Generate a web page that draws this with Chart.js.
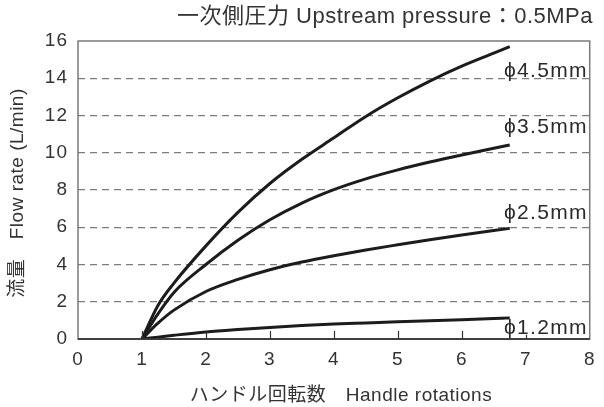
<!DOCTYPE html>
<html>
<head>
<meta charset="utf-8">
<script src="https://cdn.jsdelivr.net/npm/chart.js@4/dist/chart.umd.min.js"></script>
<style>
  html, body { margin: 0; padding: 0; background: #fff; }
  #wrap { width: 604px; height: 407px; }
</style>
</head>
<body>
<div id="wrap"><canvas id="flow-canvas"></canvas></div>
<script>
// handle rotations vs flow rate, one curve per orifice size
var rotations = [1, 1.25, 1.5, 2, 2.5, 3, 3.5, 4, 4.5, 5, 5.5, 6, 6.5, 6.75];
var flow45 = [0, 1.8, 3.0, 5.0, 6.8, 8.35, 9.65, 10.8, 11.95, 12.95, 13.85, 14.65, 15.35, 15.7];
var flow35 = [0, 1.35, 2.5, 4.0, 5.3, 6.4, 7.3, 8.02, 8.6, 9.08, 9.5, 9.88, 10.24, 10.42];
var flow25 = [0, 0.85, 1.55, 2.55, 3.2, 3.72, 4.13, 4.47, 4.78, 5.06, 5.33, 5.58, 5.82, 5.94];
var flow12 = [0, 0.1, 0.2, 0.38, 0.51, 0.62, 0.72, 0.8, 0.86, 0.92, 0.98, 1.04, 1.1, 1.13];
var seriesNames = ['ϕ4.5mm', 'ϕ3.5mm', 'ϕ2.5mm', 'ϕ1.2mm'];
var xTicks = [0, 1, 2, 3, 4, 5, 6, 7, 8];
var yTicks = [0, 2, 4, 6, 8, 10, 12, 14, 16];

var FONT = '"Liberation Sans", "Noto Sans CJK JP", sans-serif';
var DASH = [7, 5];

function toPoints(values) {
    var pts = [];
    for (var i = 0; i < values.length; i++) {
        pts.push({ x: rotations[i], y: values[i] });
    }
    return pts;
}

function curve(values) {
    return {
        data: toPoints(values),
        borderColor: '#1c1c1c',
        borderWidth: 3,
        pointRadius: 0,
        fill: false,
        cubicInterpolationMode: 'monotone'
    };
}

// wider letter spacing for all canvas text
var spacing = {
    id: 'spacing',
    beforeDraw: function (chart) {
        chart.ctx.letterSpacing = '1px';
    }
};

// frame, inner ticks, curve labels and titles
var decorations = {
    id: 'decorations',
    afterDraw: function (chart) {
        var ctx = chart.ctx;
        var area = chart.chartArea;
        var xs = chart.scales.x;
        var ys = chart.scales.y;
        ctx.save();

        ctx.strokeStyle = '#7a7a7a';
        ctx.lineWidth = 1.5;
        ctx.strokeRect(area.left, area.top, area.right - area.left, area.bottom - area.top);
        ctx.strokeStyle = '#222';
        ctx.beginPath();
        ctx.moveTo(area.left, area.bottom);
        ctx.lineTo(area.right, area.bottom);
        ctx.stroke();

        // short ticks pointing up into the plot
        ctx.lineWidth = 1.2;
        ctx.strokeStyle = '#333';
        for (var t = 1; t < xTicks.length - 1; t++) {
            var px = Math.round(xs.getPixelForValue(xTicks[t])) + 0.5;
            ctx.beginPath();
            ctx.moveTo(px, area.bottom);
            ctx.lineTo(px, area.bottom - 8);
            ctx.stroke();
        }

        // curve labels, y in data units
        var labelY = [14.4, 11.35, 6.75, 0.6];
        ctx.letterSpacing = '1.3px';
        ctx.font = '21px ' + FONT;
        ctx.textAlign = 'right';
        ctx.textBaseline = 'middle';
        for (var i = 0; i < seriesNames.length; i++) {
            var ly = ys.getPixelForValue(labelY[i]);
            var w = ctx.measureText(seriesNames[i]).width;
            ctx.fillStyle = '#fff';
            ctx.fillRect(area.right - 2 - w, ly - 8, w - 2, 15);
            ctx.fillStyle = '#2a2a2a';
            ctx.fillText(seriesNames[i], area.right - 2, ly);
        }

        ctx.fillStyle = '#333';
        ctx.letterSpacing = '0.5px';
        ctx.font = '22px ' + FONT;
        ctx.textAlign = 'right';
        ctx.fillText('一次側圧力 Upstream pressure：0.5MPa', 593, 17);

        ctx.letterSpacing = '0.5px';
        ctx.font = '19px ' + FONT;
        ctx.textAlign = 'center';
        ctx.fillText('ハンドル回転数　Handle rotations', 341, 396);

        ctx.translate(18, 193);
        ctx.rotate(-Math.PI / 2);
        ctx.fillText('流量　Flow rate (L/min)', 0, 0);
        ctx.restore();
    }
};

var flowConfig = {
    type: 'line',
    data: {
        datasets: [curve(flow45), curve(flow35), curve(flow25), curve(flow12)]
    },
    options: {
        responsive: true,
        maintainAspectRatio: false,
        animation: false,
        layout: { padding: { top: 41, right: 6, left: 0, bottom: 0 } },
        plugins: {
            legend: { display: false },
            tooltip: { enabled: false }
        },
        scales: {
            x: {
                type: 'linear',
                min: 0,
                max: 8,
                afterBuildTicks: function (scale) {
                    scale.ticks = xTicks.map(function (v) { return { value: v }; });
                },
                afterFit: function (scale) { scale.height = 68; },
                grid: { display: false, drawTicks: false, tickLength: 0 },
                border: { display: false },
                ticks: {
                    color: '#333',
                    padding: 9,
                    maxRotation: 0,
                    font: { family: FONT, size: 19 }
                }
            },
            y: {
                min: 0,
                max: 16,
                afterBuildTicks: function (scale) {
                    scale.ticks = yTicks.map(function (v) { return { value: v }; });
                },
                afterFit: function (scale) { scale.width = 78; },
                border: { display: false, dash: DASH },
                grid: {
                    drawTicks: false,
                    borderDash: DASH,
                    color: function (c) {
                        var v = c.tick ? c.tick.value : 0;
                        return (v === 0 || v === 16) ? 'rgba(0,0,0,0)' : '#7d7d7d';
                    },
                    lineWidth: 1.3
                },
                ticks: {
                    color: '#333',
                    padding: 10,
                    font: { family: FONT, size: 19 }
                }
            }
        }
    },
    plugins: [spacing, decorations]
};

var ctx = document.getElementById('flow-canvas').getContext('2d');
window.flowChart = new Chart(ctx, flowConfig);
</script>
</body>
</html>
